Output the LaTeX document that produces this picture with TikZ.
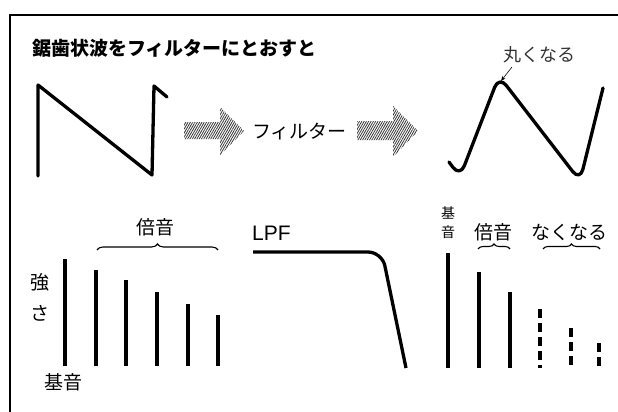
\documentclass[tikz,border=0pt]{standalone}
\usepackage{fontspec}
\newfontfamily\jp{Noto Sans CJK JP}
\newfontfamily\lat{Liberation Sans}
\usetikzlibrary{patterns.meta,decorations.pathreplacing,arrows.meta}
\tikzset{
  wave/.style={line width=3.3pt, line cap=round, line join=round},
  bar/.style={line width=3.1pt},
  dbar/.style={line width=3.1pt, dash pattern=on 9pt off 5pt},
  hatch/.style={pattern={Lines[angle=60,distance=2pt,line width=0.8pt]}, pattern color=black!80},
  lbl/.style={inner sep=0pt, font=\jp\fontsize{19}{19}\selectfont},
  brace/.style={decorate, decoration={brace, amplitude=6pt}, line width=1.1pt},
  frame/.style={line width=1.8pt}
}
\begin{document}
\begin{tikzpicture}[x=1pt,y=-1pt]
\useasboundingbox (0,0) rectangle (618,412);
% frame
\draw[frame] (10,412) -- (10,15) -- (618,15);
% title
\node[lbl, anchor=west, font=\jp\bfseries\fontsize{19}{19}\selectfont] (title) at (32,48) {鋸歯状波をフィルターにとおすと};
% sawtooth
\draw[wave] (38,176) -- (38,85) -- (152,175) -- (154,86) -- (167,97);
% arrows
\path[hatch] (184,122) -- (220,122) -- (220,107) -- (244,131) -- (220,155) -- (220,139) -- (184,139) -- cycle;
\node[lbl, anchor=west] (filt) at (252,132) {フィルター};
\path[hatch] (357,121) -- (393,121) -- (393,106) -- (418,131) -- (393,157) -- (393,140) -- (357,140) -- cycle;
% filtered wave
\draw[wave, rounded corners=12pt] (449,162) -- (460,177) -- (499,76) -- (580,181) -- (603,88);
\node[lbl, anchor=west, font=\jp\fontsize{18}{18}\selectfont, text=black!80] (round) at (503,55) {丸くなる};
\coordinate (peak) at (501,81);
\draw[-{Stealth[length=5pt,width=4pt]}, line width=0.6pt] (512,67) -- (peak);
% left spectrum
\node[lbl] (bai1) at (155,227) {倍音};
\draw[brace] (97,250) -- (218,250);
\foreach \x/\t in {65/259, 96/270, 126/280, 157/292, 188/304, 218/315}
  \draw[bar] (\x,366) -- (\x,\t);
\node[lbl] (tsuyo) at (40,282) {強};
\node[lbl] (sa) at (40,313) {さ};
\node[lbl] (kion1) at (63,382) {基音};
% LPF
\node[inner sep=0pt, anchor=west, font=\lat\fontsize{21}{21}\selectfont] (lpf) at (252,233) {LPF};
\draw[wave, line cap=butt, rounded corners=14pt] (253,252) -- (382,252) -- (406,368);
% right spectrum
\node[lbl, font=\jp\fontsize{14}{14}\selectfont] (ki) at (448,213) {基};
\node[lbl, font=\jp\fontsize{14}{14}\selectfont] (on) at (448,232) {音};
\node[lbl] (bai2) at (493,232) {倍音};
\node[lbl] (naku) at (569,232) {なくなる};
\draw[brace, decoration={amplitude=5pt}] (478,249) -- (510,249);
\draw[brace, decoration={amplitude=5pt}] (543,249) -- (600,249);
\draw[bar] (448,368) -- (448,253);
\draw[bar] (479,368) -- (479,272);
\draw[bar] (510,368) -- (510,292);
\draw[dbar] (540,309) -- (540,368);
\draw[dbar] (571,328) -- (571,368);
\draw[dbar] (599,343) -- (599,368);
\end{tikzpicture}
\end{document}
